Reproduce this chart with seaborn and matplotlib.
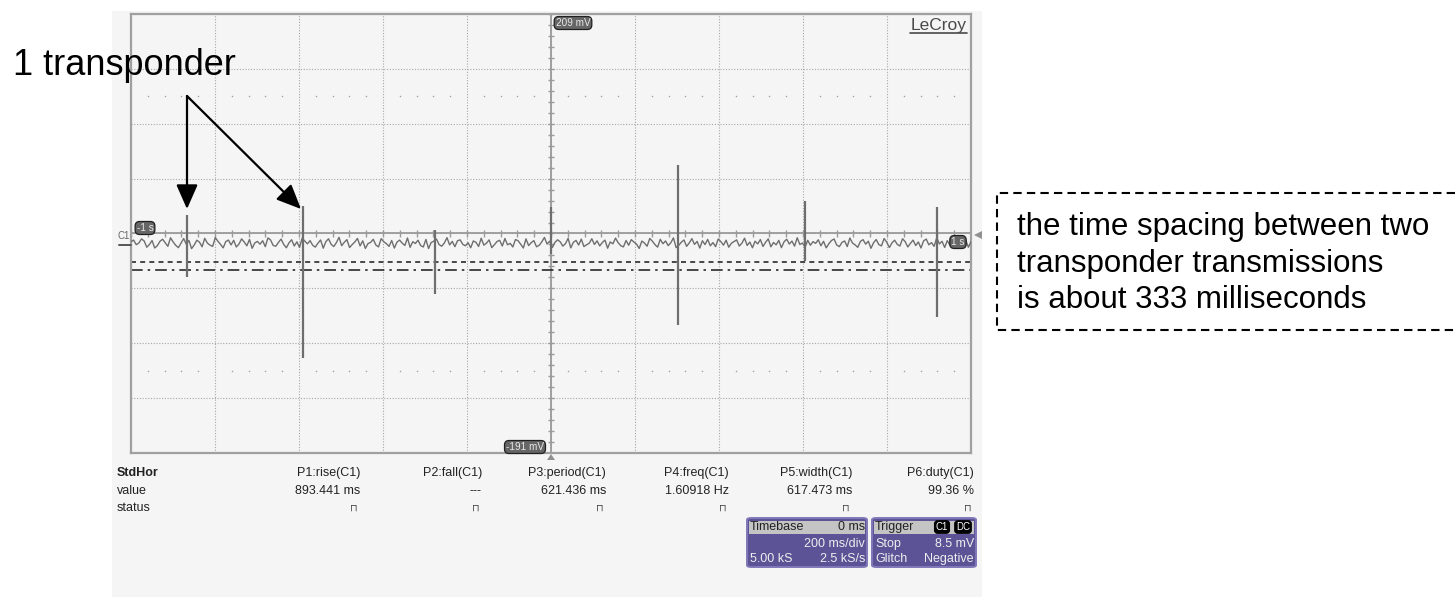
import numpy as np
import pandas as pd
import matplotlib
matplotlib.use("Agg")
import matplotlib.pyplot as plt
import matplotlib.patches as mpatches
from matplotlib.lines import Line2D
import seaborn as sns

# ---------------- data ----------------
t_start, t_end = -1.0, 1.0          # s  (200 ms/div, 10 div)
v_bottom, v_top = -191.0, 209.0     # mV (50 mV/div, 8 div)

noise_mv = [
    1.5, 3.0, -1.2, 0.4, 4.1, 2.2, -3.5, -1.0, 2.6, -4.2, -2.1, 1.9, 3.8, 0.5, -2.7, 5.1, 1.3, -1.8, -3.9, 0.2,
    4.4, -0.8, 2.7, -4.8, -1.5, 2.9, 1.1, -3.1, 4.6, 0.3, -1.6, -2.8, 5.3, 2.0, -0.9, -4.1, 1.7, 3.0, -1.4, 2.8,
    -3.3, -0.6, 4.1, 1.2, -2.2, 3.6, -4.5, 0.4, 1.8, -0.7, 2.4, -3.0, 5.0, 3.1, -1.9, -2.6, 0.9, 3.9, -1.0, -4.0,
    0.5, 3.3, -2.4, 1.4, -3.7, 4.8, 2.1, -0.4, 2.5, -1.7, -3.4, 0.2, 3.1, -4.4, 1.6, 4.2, -0.8, -2.9, 0.7, 5.5,
    -2.1, 1.0, 3.4, -3.8, -1.1, 1.3, 4.5, -2.3, 2.3, -4.6, -0.2, 0.9, 3.7, -1.5, -3.2, 4.3, 1.5, -0.3, -2.7, 2.6,
    -4.3, 1.1, 3.0, 0.2, -1.9, 4.9, -3.6, 1.5, -0.1, 2.9, -2.0, -3.3, 3.6, -4.7, 0.8, 2.0, 4.0, -1.1, -2.6, 0.4,
    5.2, -1.4, 1.8, -3.0, 2.4, 3.2, -0.9, -2.2, 0.6, -4.0, 2.2, 1.0, -2.8, 4.7, -1.6, 0.2, 3.2, -3.9, -1.2, 1.7,
    2.8, -2.4, 4.4, -1.3, 0.0, -3.3, 3.5, 2.4, -0.8, -4.2, 4.1, -2.0, 0.7, 2.5, -3.1, -1.8, 1.4, 5.4, -0.6, 2.0,
    -3.7, 0.9, 3.3, 1.4, -2.5, -0.2, 4.6, -4.1, 1.0, 2.7, -1.5, 3.9, -2.9, -1.3, 0.1, 4.2, -1.0, 2.3, -2.3, 0.8,
    3.0, -4.4, 1.3, -0.4, 4.8, 0.6, -2.1, -3.2, 2.6, -1.7, 3.4, 1.2, -0.7, -4.6, 2.1, 0.3, -2.6, 4.5, 2.0, -1.2,
    -3.4, 3.7, -0.3, 2.2, -2.0, 0.6, 5.0, -3.8, -1.8, 1.1, 3.1, -2.7, 0.4, 4.3, -0.9, 1.8, -4.3, 2.4, -1.1, 3.6,
    -2.2, 0.7, -3.0, 4.0, 1.6, -1.6, 2.9, -3.5, 0.1, 1.7, 3.2, -2.4, 0.2, 4.7, -1.9, 1.2, -4.0, 2.0, -0.5, 3.5,
    -2.8, 1.0, 4.1, -3.1, 0.8, -1.3, 2.7, -3.9, 1.4, 3.8, -0.6, 2.1, -2.5, 5.1, -1.0, 0.3, -3.4, 2.8, -1.7, 1.6,
    0.0, 3.3, -2.2, 1.9, -4.1, -0.4, 2.6, 4.0, -1.5, -3.0, 0.9, 2.2, -2.9, 4.9, 0.3, -1.4, -3.6, 1.8, 3.4, -0.7,
    2.0, -4.5, 0.6, 3.5, -1.1, -2.3, 4.4, 1.1, -3.8, 0.5, 2.9, -0.9, -2.4, 4.2, 1.6, -3.3, 0.0, 3.0, -2.0, 1.3,
    -4.2, 2.3, 3.9, -1.3, 0.7, -2.7, 5.2, -0.5, 1.9, -3.7, 2.5, -1.6, 0.4, 4.6, -2.6, 1.0, -0.2, 3.1, -3.5, 1.5,
]

spike_t = [-0.867, -0.590, -0.276, 0.000, 0.302, 0.605, 0.919]     # s
spike_hi = [26, 34, 12, 33, 71, 39, 33]                             # mV
spike_lo = [-31, -104, -46, -10, -74, -16, -67]                     # mV

cursor_dashed_mv = -17.4
cursor_dashdot_mv = -24.6
trigger_level_mv = 8.5

meas_headers = ["P1:rise(C1)", "P2:fall(C1)", "P3:period(C1)", "P4:freq(C1)", "P5:width(C1)", "P6:duty(C1)"]
meas_values = ["893.441 ms", "---", "621.436 ms", "1.60918 Hz", "617.473 ms", "99.36 %"]
row_labels = ["StdHor", "value", "status"]

timebase_rows = [("Timebase", "0 ms"), ("", "200 ms/div"), ("5.00 kS", "2.5 kS/s")]
trigger_rows = [("Trigger", ""), ("Stop", "8.5 mV"), ("Glitch", "Negative")]

annotation_left = "1 transponder"
annotation_right = ["the time spacing between two", "transponder transmissions", "is about 333 milliseconds"]

# ---------------- figure ----------------
sns.set_style("white")
plt.rcParams["font.family"] = ["Liberation Sans", "DejaVu Sans"]

W, H = 1455, 597
fig = plt.figure(figsize=(W / 100, H / 100), dpi=100)
fig.patch.set_facecolor("white")


def fx(x):
    return x / W


def fy(y):
    return 1 - y / H


# scope screen background
fig.add_artist(mpatches.Rectangle((fx(112), fy(597)), (982 - 112) / W, (597 - 11) / H,
                                  transform=fig.transFigure, fc="#f5f5f5", ec="none", zorder=-10))

ax = fig.add_axes([fx(131), fy(453), 840 / W, 439 / H])
ax.set_facecolor("#f5f5f5")
ax.set_xlim(t_start, t_end)
ax.set_ylim(v_bottom, v_top)

# grid
ax.set_xticks(np.linspace(t_start, t_end, 11))
ax.set_yticks(np.linspace(v_bottom, v_top, 9))
ax.grid(True, color="#a8a8a8", lw=0.8, ls=(0, (1, 1.5)))
ax.tick_params(length=0, labelbottom=False, labelleft=False)
ax.set_axisbelow(True)
for s in ax.spines.values():
    s.set_color("#a0a0a0")
    s.set_linewidth(1.6)

v_center = (v_top + v_bottom) / 2
# center cross
ax.axvline(0, color="#9a9a9a", lw=1.3, zorder=1)
ax.axhline(v_center, color="#9a9a9a", lw=1.3, zorder=1)
minor_x = np.arange(t_start, t_end + 1e-9, 0.04)
minor_y = np.arange(v_bottom, v_top + 1e-9, 10)
ax.vlines(minor_x, v_center - 3.6, v_center + 3.6, color="#9a9a9a", lw=1.0, zorder=1)
ax.hlines(minor_y, -0.006, 0.006, color="#9a9a9a", lw=1.0, zorder=1)
# dot rows
dot_x = [x for x in minor_x if abs(round(x / 0.2) * 0.2 - x) > 1e-6]
for yy in (v_center + 125, v_center - 125):
    ax.scatter(dot_x, [yy] * len(dot_x), s=1.2, color="#a0a0a0", lw=0, zorder=1)

# cursors
ax.axhline(cursor_dashed_mv, color="#2a2a2a", lw=1.2, ls=(0, (3, 2.5)), zorder=2)
ax.axhline(cursor_dashdot_mv, color="#2a2a2a", lw=1.2, ls=(0, (7, 3, 1.5, 3)), zorder=2)

# trace
time = np.linspace(t_start, t_end, len(noise_mv))
df = pd.DataFrame({"t": time, "v": noise_mv})
sns.lineplot(data=df, x="t", y="v", ax=ax, color="#6e6e6e", lw=1.0, estimator=None, sort=False, zorder=3)
ax.vlines(spike_t, spike_lo, spike_hi, color="#6e6e6e", lw=1.6, zorder=3)
ax.set_xlabel("")
ax.set_ylabel("")


def tag(x, y, s, ha="center"):
    fig.text(fx(x), fy(y), s, ha=ha, va="center", fontsize=7.2, color="#e8e8e8",
             bbox=dict(boxstyle="round,pad=0.15,rounding_size=0.45", fc="#666666", ec="#202020", lw=0.9),
             zorder=6)


tag(573, 23, "209 mV")
tag(525, 447, "-191 mV")
tag(145, 228, "-1 s")
tag(958, 242, "1 s")

# C1 label + ground marker
fig.text(fx(117), fy(236), "C1", fontsize=7, color="#666666", ha="left", va="center")
fig.add_artist(Line2D([fx(119), fx(131)], [fy(245), fy(245)], color="#555555", lw=1.4))
# trigger and centre markers
fig.add_artist(mpatches.Polygon([[fx(974), fy(235)], [fx(982), fy(231)], [fx(982), fy(239)]],
                                closed=True, transform=fig.transFigure, fc="#909090", ec="none"))
fig.add_artist(mpatches.Polygon([[fx(551), fy(454)], [fx(547), fy(460)], [fx(555), fy(460)]],
                                closed=True, transform=fig.transFigure, fc="#909090", ec="none"))

# LeCroy logo
fig.text(fx(967), fy(30), "LeCroy", fontsize=12.5, color="#4a4a4a", ha="right", va="baseline")
fig.add_artist(Line2D([fx(910), fx(967)], [fy(33), fy(33)], color="#4a4a4a", lw=1.2))

# measurement table
row_y = [473, 491, 508]
fig.text(fx(117), fy(row_y[0]), row_labels[0], fontsize=9, fontweight="bold", color="#222222", va="center")
fig.text(fx(117), fy(row_y[1]), row_labels[1], fontsize=9, color="#222222", va="center")
fig.text(fx(117), fy(row_y[2]), row_labels[2], fontsize=9, color="#222222", va="center")
col_right = [360, 482, 606, 729, 852, 974]
for xr, hdr, val in zip(col_right, meas_headers, meas_values):
    fig.text(fx(xr), fy(row_y[0]), hdr, fontsize=9, color="#222222", ha="right", va="center")
    fig.text(fx(xr), fy(row_y[1]), val, fontsize=9, color="#222222", ha="right", va="center")
    fig.text(fx(xr - 2), fy(row_y[2]), "\u2293", fontsize=7, color="#444444", ha="right", va="center",
             family=["DejaVu Sans"])


def panel(x0, x1, rows, badges=None):
    y0, y1 = 518, 567
    fig.add_artist(mpatches.FancyBboxPatch((fx(x0), fy(y1)), (x1 - x0) / W, (y1 - y0) / H,
                                           boxstyle="round,pad=0,rounding_size=0.003",
                                           transform=fig.transFigure, fc="#5c5396", ec="#8078b8", lw=1.4))
    fig.add_artist(mpatches.Rectangle((fx(x0 + 2), fy(534)), (x1 - x0 - 4) / W, 13 / H,
                                      transform=fig.transFigure, fc="#c4c4c4", ec="none"))
    ys = [527, 544, 559]
    for i, (l, r) in enumerate(rows):
        c = "#222222" if i == 0 else "#eeeeee"
        if l:
            fig.text(fx(x0 + 3), fy(ys[i]), l, fontsize=9, color=c, ha="left", va="center")
        if r:
            fig.text(fx(x1 - 2), fy(ys[i]), r, fontsize=9, color=c, ha="right", va="center")
    if badges:
        for bx, b in badges:
            fig.text(fx(bx), fy(527), b, fontsize=7, color="white", ha="center", va="center",
                     bbox=dict(boxstyle="round,pad=0.12,rounding_size=0.3", fc="black", ec="black"))


panel(747, 867, timebase_rows)
panel(872, 976, trigger_rows, badges=[(942, "C1"), (963, "DC")])

# annotations
fig.text(fx(13), fy(75), annotation_left, fontsize=26, color="black", ha="left", va="baseline")
for tip in [(187, 209), (301, 209)]:
    fig.add_artist(mpatches.FancyArrowPatch((fx(187), fy(96)), (fx(tip[0]), fy(tip[1])),
                                            transform=fig.transFigure,
                                            arrowstyle="-|>,head_length=0.75,head_width=0.33",
                                            mutation_scale=20, lw=1.6, color="black",
                                            shrinkA=0, shrinkB=0, zorder=8))

for i, line in enumerate(annotation_right):
    fig.text(fx(1017), fy([235, 272, 308][i]), line, fontsize=22.5, color="black", ha="left", va="baseline")
box_ls = (0, (4, 2.5))
fig.add_artist(Line2D([fx(1455), fx(997), fx(997), fx(1455)], [fy(193), fy(193), fy(330), fy(330)],
                      color="black", lw=1.5, ls=box_ls))

fig.savefig("out.png", dpi=100, facecolor="white")
